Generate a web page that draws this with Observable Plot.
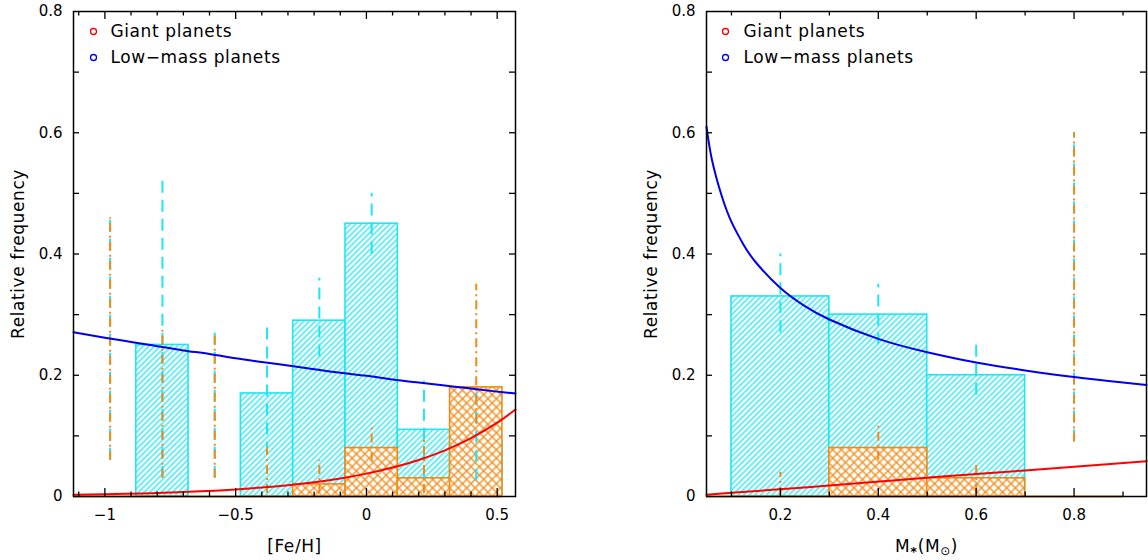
<!DOCTYPE html>
<html><head><meta charset="utf-8">
<script src="https://cdn.jsdelivr.net/npm/d3@7"></script>
<script src="https://cdn.jsdelivr.net/npm/@observablehq/plot@0.6"></script>
<style>
html,body{margin:0;padding:0;background:#fff;}
#wrap{position:relative;width:1148px;height:560px;overflow:hidden;background:#fff;}
.panel{position:absolute;top:0;}
svg text{font-family:"DejaVu Sans",sans-serif;}
</style></head><body>
<svg width="0" height="0" style="position:absolute;left:0;top:0">
<defs>
<pattern id="hatchCyan" patternUnits="userSpaceOnUse" width="4" height="4" patternTransform="rotate(45)">
<rect width="4" height="4" fill="#fff"/>
<line x1="2" y1="0" x2="2" y2="4" stroke="#1ee6f2" stroke-width="1.3"/>
</pattern>
<pattern id="hatchOrange" patternUnits="userSpaceOnUse" width="6" height="6" patternTransform="rotate(45)">
<rect width="6" height="6" fill="#fff"/>
<line x1="3" y1="0" x2="3" y2="6" stroke="#f28a14" stroke-width="1.3"/>
<line x1="0" y1="3" x2="6" y2="3" stroke="#f28a14" stroke-width="1.3"/>
</pattern>
</defs></svg>
<div id="wrap"><div id="left" class="panel" style="left:0"></div><div id="right" class="panel" style="left:574px"></div></div>
<script>
// ---------- Left panel: [Fe/H] ----------
const feEdges = [-1.08, -0.88, -0.68, -0.48, -0.28, -0.08, 0.12, 0.32, 0.52];
const feLow   = [0, 0.25, 0, 0.17, 0.29, 0.45, 0.11, 0.09];
const feGiant = [0, 0, 0, 0, 0.02, 0.08, 0.03, 0.18];
const feErrX      = [-0.98, -0.78, -0.58, -0.38, -0.18, 0.02, 0.22, 0.42];
const feLowErrLo  = [0.06, 0.03, 0.03, 0.07, 0.23, 0.40, 0.03, 0.025];
const feLowErrHi  = [0.46, 0.53, 0.27, 0.28, 0.36, 0.50, 0.19, 0.175];
const feGiantErrLo = [0.06, 0.03, 0.03, 0.005, 0.005, 0.057, 0.005, 0.12];
const feGiantErrHi = [0.46, 0.28, 0.27, 0.08, 0.06, 0.12, 0.10, 0.35];
const feFitX     = [-1.12, -1.0, -0.9, -0.8, -0.7, -0.6, -0.5, -0.4, -0.3, -0.2, -0.1, 0, 0.1, 0.2, 0.3, 0.4, 0.5, 0.57];
const feFitLow   = [0.271, 0.262, 0.255, 0.248, 0.241, 0.235, 0.228, 0.222, 0.216, 0.210, 0.204, 0.199, 0.193, 0.188, 0.183, 0.178, 0.173, 0.170];
const feFitGiant = [0.0027, 0.0036, 0.0046, 0.0058, 0.0073, 0.0092, 0.0117, 0.0148, 0.0187, 0.0236, 0.0298, 0.0377, 0.0477, 0.0603, 0.0762, 0.0963, 0.1218, 0.1434];
const feDomain = [-1.12, 0.57];
const feMajor = [-1, -0.5, 0, 0.5];
const feMinor = [-1.1, -0.9, -0.8, -0.7, -0.6, -0.4, -0.3, -0.2, -0.1, 0.1, 0.2, 0.3, 0.4];

// ---------- Right panel: stellar mass ----------
const mEdges = [0.1, 0.3, 0.5, 0.7, 0.9];
const mLow   = [0.33, 0.30, 0.20, 0];
const mGiant = [0, 0.08, 0.03, 0];
const mErrX      = [0.2, 0.4, 0.6, 0.8];
const mLowErrLo  = [0.27, 0.25, 0.167, 0.09];
const mLowErrHi  = [0.40, 0.35, 0.26, 0.60];
const mGiantErrLo = [0.0, 0.06, 0.005, 0.09];
const mGiantErrHi = [0.04, 0.12, 0.055, 0.60];
const mFitX     = [0.049, 0.06, 0.08, 0.1, 0.125, 0.15, 0.2, 0.25, 0.3, 0.4, 0.5, 0.6, 0.7, 0.8, 0.9, 0.948];
const mFitLow   = [0.61, 0.556, 0.496, 0.453, 0.415, 0.386, 0.344, 0.314, 0.292, 0.260, 0.238, 0.221, 0.208, 0.197, 0.188, 0.184];
const mFitGX    = [0.049, 0.1, 0.3, 0.5, 0.7, 0.948];
const mFitGiant = [0.003, 0.006, 0.018, 0.031, 0.043, 0.058];
const mDomain = [0.049, 0.948];
const mMajor = [0.2, 0.4, 0.6, 0.8];
const mMinor = [0.1, 0.3, 0.5, 0.7, 0.9];

const yDomain = [0, 0.8];
const yLabels = [0, 0.2, 0.4, 0.6, 0.8];
const yTicks = [0.1, 0.2, 0.3, 0.4, 0.5, 0.6, 0.7];
const legendNames = ["Giant planets", "Low\u2212mass planets"];
const yTitle = "Relative frequency";

const CYAN = "#1ee6f2", ORANGE = "#f28a14", BLUE = "#0000ee", RED = "#ff0000";
const W = 574, HEIGHT = 560, MT = 11, MB = 64;

function fmt(d) {
  if (d === 0) return "0";
  return (d < 0 ? "\u2212" : "") + String(Math.abs(d));
}

function panel(o) {
  const H = HEIGHT - MT - MB;
  const FW = W - o.mL - o.mR;
  const bins = (vals) => vals.map((v, i) => ({x1: o.edges[i], x2: o.edges[i + 1], v}));
  const errs = (lo, hi) => o.errX.map((x, i) => ({x, lo: lo[i], hi: hi[i]}));
  const pts = (xs, ys) => xs.map((x, i) => ({x, y: ys[i]}));
  const tk = {stroke: "#000", strokeWidth: 1.3};
  const plot = Plot.plot({
    width: W, height: HEIGHT,
    marginLeft: o.mL, marginRight: o.mR, marginTop: MT, marginBottom: MB,
    style: {fontFamily: "DejaVu Sans, sans-serif", fontSize: "15px", background: "#fff", color: "#000", overflow: "visible"},
    x: {domain: o.domain, ticks: o.major, tickSize: 0, tickPadding: 13, tickFormat: fmt, label: null},
    y: {domain: yDomain, ticks: yLabels, tickSize: 0, tickPadding: 11, tickFormat: fmt, label: null},
    marks: [
      Plot.rect(bins(o.low).filter(d => d.v > 0), {x1: "x1", x2: "x2", y1: 0, y2: "v", fill: "url(#hatchCyan)", stroke: CYAN, strokeWidth: 1.6}),
      Plot.ruleY([0], {x1: o.domain[0], x2: o.edges[o.edges.length - 1], stroke: ORANGE, strokeWidth: 2}),
      Plot.rect(bins(o.giant), {x1: "x1", x2: "x2", y1: 0, y2: "v", fill: "url(#hatchOrange)", stroke: ORANGE, strokeWidth: 1.6}),
      Plot.ruleX(errs(o.lowLo, o.lowHi), {x: "x", y1: "lo", y2: "hi", stroke: CYAN, strokeWidth: 2, strokeDasharray: "12,7"}),
      Plot.ruleX(errs(o.gLo, o.gHi), {x: "x", y1: "lo", y2: "hi", stroke: ORANGE, strokeWidth: 2, strokeDasharray: "9,4,2,4"}),
      Plot.line(pts(o.fitX, o.fitLow), {x: "x", y: "y", stroke: BLUE, strokeWidth: 2, curve: "natural"}),
      Plot.line(pts(o.fitGX, o.fitGiant), {x: "x", y: "y", stroke: RED, strokeWidth: 2, curve: "natural"}),
      // ticks (inward, all four sides)
      Plot.ruleX(o.major, {x: d => d, insetTop: H - 8, ...tk}),
      Plot.ruleX(o.minor, {x: d => d, insetTop: H - 4.5, ...tk}),
      Plot.ruleX(o.major, {x: d => d, insetBottom: H - 8, ...tk}),
      Plot.ruleX(o.minor, {x: d => d, insetBottom: H - 4.5, ...tk}),
      Plot.ruleY(yTicks, {y: d => d, insetRight: FW - 6, ...tk}),
      Plot.ruleY(yTicks, {y: d => d, insetLeft: FW - 6, ...tk}),
      Plot.frame({stroke: "#000", strokeWidth: 1.5}),
      // legend
      Plot.dot([legendNames[0]], {frameAnchor: "top-left", dx: o.legDot, dy: 20, r: 3, stroke: RED, strokeWidth: 1.3, fill: "none"}),
      Plot.dot([legendNames[1]], {frameAnchor: "top-left", dx: o.legDot, dy: 46, r: 3, stroke: BLUE, strokeWidth: 1.3, fill: "none"}),
      Plot.text([legendNames[0]], {frameAnchor: "top-left", dx: o.legText, dy: 13, text: d => d, textAnchor: "start", fontSize: 17, fill: "#000"}),
      Plot.text([legendNames[1]], {frameAnchor: "top-left", dx: o.legText, dy: 39, text: d => d, textAnchor: "start", fontSize: 17, fill: "#000"}),
      // axis titles
      Plot.text([yTitle], {frameAnchor: "left", dx: -55, rotate: -90, text: d => d, textAnchor: "middle", fontSize: 17, fill: "#000"}),
      Plot.text([o.xLabel], {frameAnchor: "bottom", dy: 55, text: d => d, textAnchor: "middle", fontSize: 17, fill: "#000"})
    ]
  });
  d3.select(plot).selectAll("g[font-size='17'] text").style("letter-spacing", "0.6px");
  return plot;
}

const left = panel({
  edges: feEdges, low: feLow, giant: feGiant, errX: feErrX,
  lowLo: feLowErrLo, lowHi: feLowErrHi, gLo: feGiantErrLo, gHi: feGiantErrHi,
  fitX: feFitX, fitLow: feFitLow, fitGX: feFitX, fitGiant: feFitGiant,
  domain: feDomain, major: feMajor, minor: feMinor, xLabel: "[Fe/H]",
  mL: 73, mR: 59, legDot: 20, legText: 37
});
document.getElementById("left").appendChild(left);

const right = panel({
  edges: mEdges, low: mLow, giant: mGiant, errX: mErrX,
  lowLo: mLowErrLo, lowHi: mLowErrHi, gLo: mGiantErrLo, gHi: mGiantErrHi,
  fitX: mFitX, fitLow: mFitLow, fitGX: mFitGX, fitGiant: mFitGiant,
  domain: mDomain, major: mMajor, minor: mMinor, xLabel: "M*(M\u2299)",
  mL: 132, mR: 2, legDot: 19, legText: 37
});
document.getElementById("right").appendChild(right);

// Render the stellar-mass label with subscripts
d3.select(right).selectAll("text").filter(function() { return this.textContent === "M*(M\u2299)"; })
  .each(function() {
    const t = d3.select(this);
    t.text("");
    t.append("tspan").text("M");
    t.append("tspan").attr("dy", 4).attr("font-size", 13).attr("font-weight", "bold").text("*");
    t.append("tspan").attr("dy", -4).text("(M");
    t.append("tspan").attr("dy", 3).attr("font-size", 12).text("\u2299");
    t.append("tspan").attr("dy", -3).text(")");
  });
</script>
</body></html>
